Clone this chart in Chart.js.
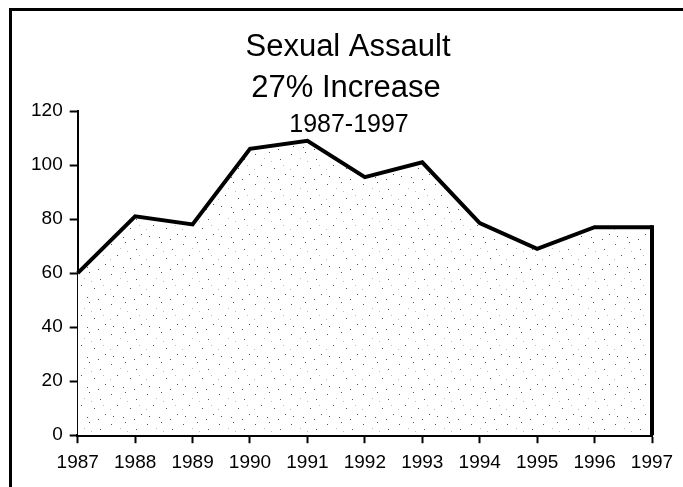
<!DOCTYPE html>
<html>
<head>
<meta charset="utf-8">
<script src="https://cdn.jsdelivr.net/npm/chart.js@4.4.0/dist/chart.umd.min.js"></script>
<style>
  body { margin: 0; background: #fff; }
  canvas { display: block; }
</style>
</head>
<body>
<canvas id="chart" width="683" height="487"></canvas>
<script>
// DATA
const years = ["1987", "1988", "1989", "1990", "1991", "1992", "1993", "1994", "1995", "1996", "1997"];
const assaults = [60, 81, 78, 106, 109, 95.5, 101, 78.5, 69, 77, 77];
const titleLines = ["Sexual Assault", "27% Increase", "1987-1997"];

const FONT = "'Liberation Sans', Arial, sans-serif";

// stippled fill, like the scanned original
function makeStipple() {
  const c = document.createElement("canvas");
  c.width = 36;
  c.height = 30;
  const g = c.getContext("2d");
  g.fillStyle = "#ffffff";
  g.fillRect(0, 0, 36, 30);
  g.fillStyle = "#555";
  const dots = [[3, 4], [17, 2], [28, 9], [9, 15], [22, 18], [33, 24], [5, 26], [15, 27], [26, 29]];
  dots.forEach(d => g.fillRect(d[0], d[1], 1, 1));
  g.fillStyle = "#bbb";
  const faint = [[12, 8], [31, 15], [2, 19], [19, 11]];
  faint.forEach(d => g.fillRect(d[0], d[1], 1, 1));
  return g.createPattern(c, "repeat");
}

const ctx = document.getElementById("chart").getContext("2d");

// title text inside the frame, frame lines, closing edge of the area
const extras = {
  id: "extras",
  afterDatasetsDraw(chart) {
    const c = chart.ctx;
    const meta = chart.getDatasetMeta(0);
    const last = meta.data[meta.data.length - 1];
    c.save();
    c.strokeStyle = "#000";
    c.lineWidth = 4;
    c.beginPath();
    c.moveTo(last.x, last.y - 2);
    c.lineTo(last.x, chart.scales.y.bottom);
    c.stroke();
    c.restore();
  },
  afterDraw(chart) {
    const c = chart.ctx;
    c.save();
    // frame (top & left edges of the scanned box)
    c.fillStyle = "#000";
    c.fillRect(9, 8, 683, 3);
    c.fillRect(9, 8, 3, 487);

    c.textAlign = "center";
    c.textBaseline = "alphabetic";
    c.font = "31px " + FONT;
    c.fillText(titleLines[0], 348, 56);
    c.fillText(titleLines[1], 346, 97);
    c.font = "25px " + FONT;
    c.fillText(titleLines[2], 349, 132);
    c.restore();
  }
};

new Chart(ctx, {
  type: "line",
  data: {
    labels: years,
    datasets: [{
      data: assaults,
      borderColor: "#000",
      borderWidth: 4,
      borderJoinStyle: "miter",
      backgroundColor: makeStipple(),
      fill: "origin",
      pointRadius: 0,
      tension: 0
    }]
  },
  options: {
    responsive: false,
    animation: false,
    layout: { padding: { top: 111, left: 24, right: 31, bottom: 5 } },
    plugins: {
      legend: { display: false },
      tooltip: { enabled: false }
    },
    scales: {
      x: {
        offset: false,
        grid: { display: true, drawOnChartArea: false, drawTicks: true, tickLength: 8, tickWidth: 2, tickColor: "#000" },
        border: { display: true, color: "#000", width: 3 },
        ticks: { color: "#000", font: { family: FONT, size: 19 }, padding: 8, maxRotation: 0, autoSkip: false }
      },
      y: {
        min: 0,
        max: 120,
        grid: { display: true, drawOnChartArea: false, drawTicks: true, tickLength: 8, tickWidth: 2, tickColor: "#000" },
        border: { display: true, color: "#000", width: 2 },
        ticks: { stepSize: 20, color: "#000", font: { family: FONT, size: 19 }, padding: 7 }
      }
    }
  },
  plugins: [extras]
});
</script>
</body>
</html>
